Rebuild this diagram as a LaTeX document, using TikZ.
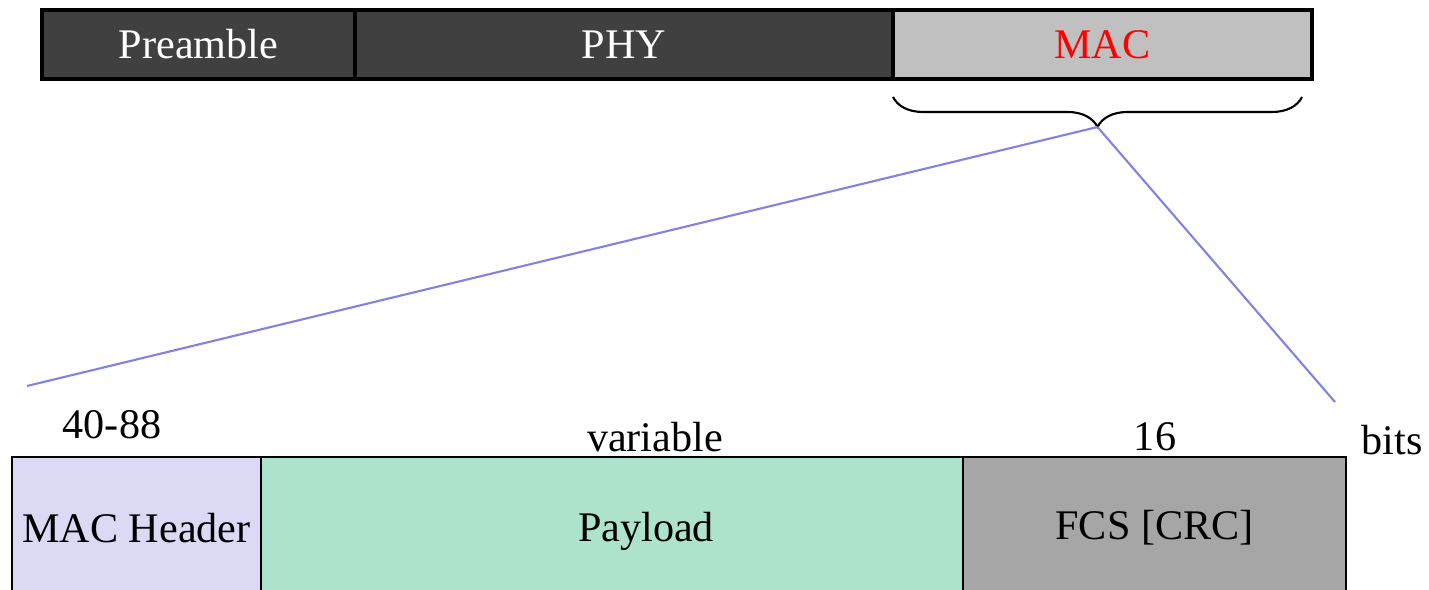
\documentclass[tikz,border=0pt]{standalone}
\usepackage{fontspec}
\setmainfont{Liberation Serif}
\usetikzlibrary{decorations.pathreplacing}
\definecolor{darkfield}{HTML}{404040}
\definecolor{macfield}{HTML}{C0C0C0}
\definecolor{headfield}{HTML}{DADAF4}
\definecolor{loadfield}{HTML}{ACE3CA}
\definecolor{crcfield}{HTML}{A6A6A6}
\definecolor{zoomline}{HTML}{8282E0}
\tikzset{
	topfield/.style={draw=black, line width=1.4pt, anchor=north west, minimum height=0.69cm, inner sep=0pt, outer sep=0pt, text=white},
	lowfield/.style={draw=black, line width=0.6pt, anchor=north west, minimum height=1.42cm, inner sep=0pt, outer sep=0pt},
	zoom/.style={draw=zoomline, line width=0.6pt},
}
\begin{document}
\begin{tikzpicture}[font=\fontsize{12}{14.4}\selectfont]
		\useasboundingbox (0, 0) rectangle (14.29, -5.90);
		% frame
		\node[topfield, fill=darkfield, minimum width=3.13cm] (pre) at (0.42, -0.10) {Preamble};
		\node[topfield, fill=darkfield, minimum width=5.38cm] (phy) at (pre.north east) {PHY};
		\node[topfield, fill=macfield, minimum width=4.19cm, text=red] (mac) at (phy.north east) {MAC};
		\draw[decorate, decoration={brace, mirror, amplitude=0.3cm}, line width=0.6pt] ([yshift=-0.18cm]mac.south west) -- ([xshift=-0.1cm, yshift=-0.18cm]mac.south east);
		\coordinate (tip) at (10.975, -1.27);
		% MAC fields
		\node[lowfield, fill=headfield, minimum width=2.49cm] (hdr) at (0.12, -4.57) {MAC Header};
		\node[lowfield, fill=loadfield, minimum width=7.02cm] (load) at (hdr.north east) {};
		\node (loadtext) at ([xshift=0.34cm, yshift=-0.03cm]load.center) {Payload};
		\node[lowfield, fill=crcfield, minimum width=3.83cm] (fcs) at (load.north east) {FCS [CRC]};
		\node (hdrlen) at (1.12, -4.25) {40-88};
		\node (loadlen) at (6.55, -4.37) {variable};
		\node (fcslen) at (11.55, -4.37) {16};
		\node (unit) at (13.92, -4.40) {bits};
		\coordinate (zl) at (0.27, -3.86);
		\coordinate (zr) at (13.35, -4.02);
		\draw[zoom] (tip) -- (zl);
		\draw[zoom] (tip) -- (zr);
	\end{tikzpicture}
\end{document}
